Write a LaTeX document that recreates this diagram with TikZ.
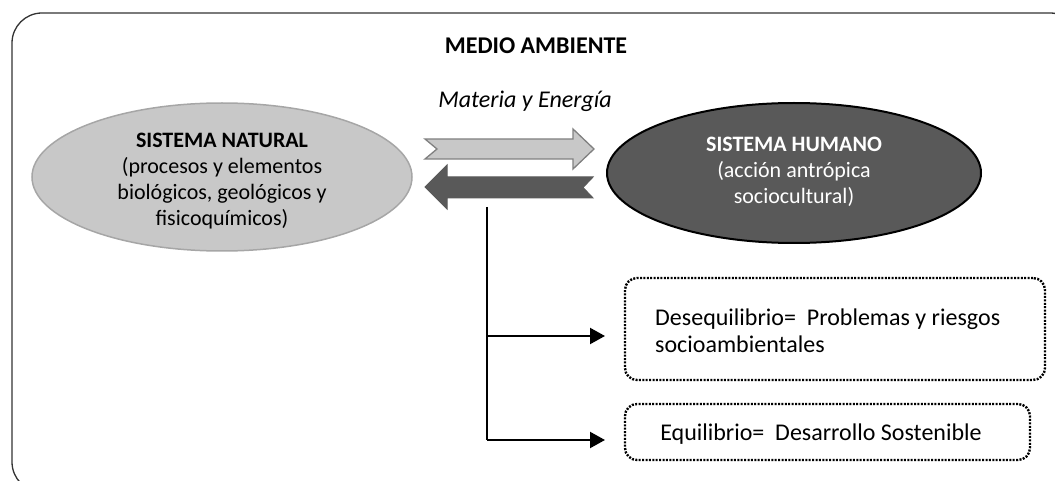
\documentclass[tikz,border=0pt]{standalone}
\usepackage{fontspec}
\setmainfont{Carlito}
\usetikzlibrary{shapes.geometric,arrows.meta}
\definecolor{lightg}{HTML}{C8C8C8}
\definecolor{lightedge}{HTML}{A6A6A6}
\definecolor{darkg}{HTML}{595959}
\definecolor{arredge}{HTML}{808080}
\tikzset{
  txt/.style={font=\fontsize{22}{26}\selectfont, align=center, inner sep=0pt},
  boxtxt/.style={font=\fontsize{24}{27}\selectfont, inner sep=0pt},
  dotbox/.style={draw, line width=2.4pt, dash pattern=on 2pt off 1.4pt, rounded corners=12pt},
  conn/.style={line width=2.2pt, -{Triangle[length=15pt,width=16pt]}},
}
\begin{document}
\begin{tikzpicture}[x=1pt,y=-1pt]
\useasboundingbox (0,0) rectangle (1055,481);
\begin{scope}
\clip (0,0) rectangle (1055,481);
\draw[line width=1.3pt, black!80, rounded corners=30pt] (12,13) rectangle (1080,492);
\end{scope}
\node[font=\fontsize{24}{28}\selectfont\bfseries, inner sep=0pt] (title) at (536,46) {MEDIO AMBIENTE};
\node[font=\fontsize{24}{28}\selectfont\itshape, inner sep=0pt] (me) at (525,101) {Materia y Energía};
\node[ellipse, draw=lightedge, line width=1.5pt, fill=lightg, minimum width=380pt, minimum height=148pt, inner sep=0pt] (nat) at (222,177) {};
\node[txt] (natt) at (222,181) {\textbf{SISTEMA NATURAL}\\(procesos y elementos\\biológicos, geológicos y\\fisicoquímicos)};
\node[ellipse, draw=black, line width=2pt, fill=darkg, minimum width=374pt, minimum height=140pt, inner sep=0pt] (hum) at (794,173) {};
\node[txt, text=white] (humt) at (794,172) {\textbf{SISTEMA HUMANO}\\(acción antrópica\\sociocultural)};
\draw[draw=arredge, line width=1.3pt, fill=lightg] (425,139) -- (573,139) -- (573,129) -- (594,149) -- (573,169) -- (573,159) -- (425,159) -- (437,149) -- cycle;
\draw[draw=darkg, line width=1pt, fill=darkg] (425,187) -- (447,165) -- (447,177) -- (593,177) -- (583,187.5) -- (593,198) -- (447,198) -- (447,209) -- cycle;
\coordinate (top) at (487,207);
\coordinate (j1) at (487,336);
\coordinate (j2) at (487,440);
\node[dotbox, minimum width=420pt, minimum height=102pt] (b1) at (835,329) {};
\node[boxtxt, align=left, anchor=west] (b1t) at (655,331) {Desequilibrio=\ \ Problemas y riesgos\\socioambientales};
\node[dotbox, minimum width=405pt, minimum height=56pt] (b2) at (827.5,432) {};
\node[boxtxt] (b2t) at (821,434) {Equilibrio=\ \ Desarrollo Sostenible};
\draw[line width=2.2pt] (top) -- (j2);
\draw[conn] (j1) -- (605,336);
\draw[conn] (j2) -- (605,440);
\end{tikzpicture}
\end{document}
